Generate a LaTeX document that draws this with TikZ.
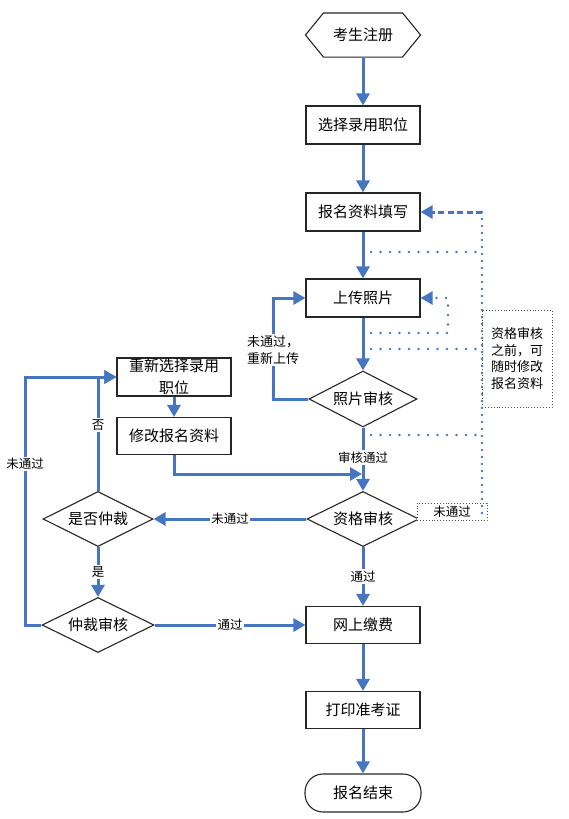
\documentclass[tikz,border=0pt]{standalone}
\usepackage{fontspec}
\setmainfont{Noto Sans CJK SC}
\usetikzlibrary{arrows.meta,shapes.geometric,calc}
\definecolor{flowblue}{RGB}{70,118,194}
\begin{document}
\begin{tikzpicture}[x=1pt,y=-1pt,
  box/.style={draw=black!85, line width=1.1pt, fill=white, minimum width=114pt, minimum height=38pt, inner sep=0pt, font=\fontsize{15}{18}\selectfont},
  dia/.style={diamond, draw=black!85, line width=1.1pt, fill=white, aspect=2, minimum width=110pt, minimum height=56pt, inner sep=0pt, font=\fontsize{15}{18}\selectfont},
  flow/.style={draw=flowblue, line width=3pt, -{Triangle[length=12pt,width=13pt]}},
  lbl/.style={fill=white, inner sep=1.5pt, font=\fontsize{12.5}{16}\selectfont},
  dotline/.style={draw=flowblue, line width=2.6pt, line cap=round, dash pattern=on 0pt off 9.5pt},
  densedots/.style={draw=flowblue, line width=2.6pt, line cap=round, dash pattern=on 0pt off 7pt},
  dashflow/.style={draw=flowblue, line width=3pt, dash pattern=on 6pt off 3.5pt, -{Triangle[length=12pt,width=13pt]}},
  dotflow/.style={draw=flowblue, line width=2.6pt, line cap=round, dash pattern=on 0pt off 9.5pt, -{Triangle[length=12pt,width=13pt]}},
  notebox/.style={draw=black!70, line width=0.9pt, dotted, fill=white, inner sep=0pt, align=center, font=\fontsize{13}{16.5}\selectfont}
]
\useasboundingbox (0,0) rectangle (568,819);

% main column
\node[box, draw=none, fill=none, minimum height=43pt] (start) at (363,35) {考生注册};
\draw[black!85, line width=1.1pt] (start.west) -- ([xshift=18pt]start.north west) -- ([xshift=-18pt]start.north east) -- (start.east) -- ([xshift=-18pt]start.south east) -- ([xshift=18pt]start.south west) -- cycle;
\node[box] (sel) at (363,125) {选择录用职位};
\node[box] (fill) at (363,212) {报名资料填写};
\node[box] (up) at (363,298) {上传照片};
\node[dia, minimum width=108pt] (pchk) at (363,399) {照片审核};
\node[dia, minimum width=112pt, minimum height=55pt] (qchk) at (363,519) {资格审核};
\node[box, minimum height=37pt] (pay) at (363,625) {网上缴费};
\node[box, minimum height=37pt] (print) at (363,710) {打印准考证};
\node[box, rounded corners=18pt, minimum width=116pt] (end) at (363,793) {报名结束};

% left column
\node[box, align=center, font=\fontsize{15}{22}\selectfont] (resel) at (174,377) {重新选择录用\\职位};
\node[box, minimum height=37pt] (mod) at (174,436) {修改报名资料};
\node[dia, minimum height=55pt] (arb) at (98,519) {是否仲裁};
\node[dia, minimum width=112pt, minimum height=55pt] (arbchk) at (98,625) {仲裁审核};

% notes
\node[notebox, minimum width=70pt, minimum height=97pt] (note) at (517,358.5) {资格审核\\之前，可\\随时修改\\报名资料};
\node[notebox, minimum width=70pt, minimum height=17pt, font=\fontsize{12.5}{14}\selectfont] (fail) at (452,511.5) {未通过};

% coordinates
\coordinate (pl) at (273,298);
\coordinate (lc1) at (25,625);
\coordinate (lc2) at (25,377);
\coordinate (mj) at (362,474);
\coordinate (rt) at (482,212);
\coordinate (rb) at (482,515);
\coordinate (d1a) at (371,252); \coordinate (d1b) at (482,252);
\coordinate (d2a) at (371,349); \coordinate (d2b) at (482,349);
\coordinate (d3a) at (371,435); \coordinate (d3b) at (482,435);
\coordinate (l1) at (371,333); \coordinate (l2) at (448,333); \coordinate (l3) at (448,298);

% main flow
\draw[flow] (start.south) -- (sel.north);
\draw[flow] (sel.south) -- (fill.north);
\draw[flow] (fill.south) -- (up.north);
\draw[flow] (up.south) -- (pchk.north);
\draw[flow] (pchk.south) -- node[lbl, pos=0.47]{审核通过} (qchk.north);
\draw[flow] (qchk.south) -- node[lbl, pos=0.5]{通过} (pay.north);
\draw[flow] (pay.south) -- (print.north);
\draw[flow] (print.south) -- (end.north);

% side flows
\draw[flow] (pchk.west) -| (pl) -- (up.west);
\node[lbl, align=center, font=\fontsize{13}{17}\selectfont] (relbl) at (273,350) {未通过，\\重新上传};
\draw[flow] (qchk.west) -- node[lbl]{未通过} (arb.east);
\draw[flow] (arb.north) |- node[lbl, pos=0.29]{否} (resel.west);
\draw[flow] (arb.south) -- node[lbl]{是} (arbchk.north);
\draw[flow] (arbchk.west) -- (lc1) -- node[lbl, pos=0.65]{未通过} (lc2) -- (resel.west);
\draw[flow] (arbchk.east) -- node[lbl]{通过} (pay.west);
\draw[flow] (resel.south) -- (mod.north);
\draw[flow] (mod.south) |- (mj);

% dotted modification paths
\draw[dashflow] (rt) -- (fill.east);
\draw[densedots] (rt) -- (rb);
\draw[dotline] (d1a) -- (d1b);
\draw[dotline] (d2a) -- (d2b);
\draw[dotline] (d3a) -- (d3b);
\draw[dotflow] (l1) -- (l2) -- (l3) -- (up.east);
\end{tikzpicture}
\end{document}
